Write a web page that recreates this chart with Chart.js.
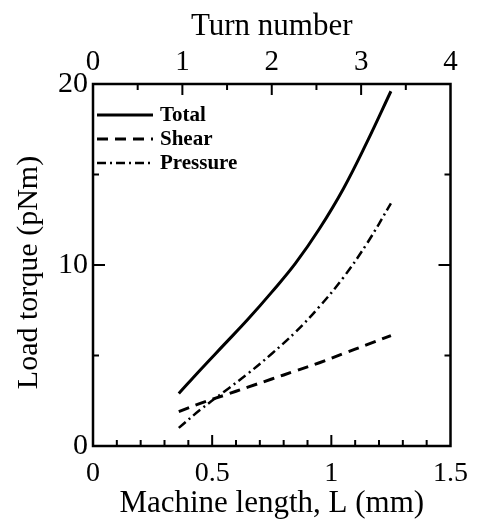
<!DOCTYPE html>
<html>
<head>
<meta charset="utf-8">
<script src="https://cdn.jsdelivr.net/npm/chart.js@4.4.0/dist/chart.umd.min.js"></script>
<style>
  html, body { margin: 0; padding: 0; background: #fff; }
  #wrap { width: 479px; height: 519px; }
</style>
</head>
<body>
<div id="wrap"><canvas id="c"></canvas></div>
<script>
// machine length L (mm) and load torques (pNm)
const lengthMm = [0.36, 0.45, 0.55, 0.65, 0.75, 0.85, 0.95, 1.05, 1.15, 1.25];
const totalTorque = [2.9, 4.2, 5.6, 7.0, 8.5, 10.1, 12.0, 14.2, 16.8, 19.6];
const shearTorque = [1.9, 2.35, 2.8, 3.25, 3.7, 4.15, 4.6, 5.1, 5.6, 6.1];
const pressureTorque = [1.0, 2.0, 3.0, 4.0, 5.1, 6.3, 7.7, 9.3, 11.2, 13.4];

const xMinorTicks = [0.1, 0.2, 0.3, 0.4, 0.6, 0.7, 0.8, 0.9, 1.1, 1.2, 1.3, 1.4];
const xMajorTicks = [0.5, 1];
const turnMinorTicks = [0.5, 1.5, 2.5, 3.5];
const turnMajorTicks = [1, 2, 3];
const yMinorTicks = [5, 15];
const yMajorTicks = [10];

const SERIF = "'Liberation Serif','DejaVu Serif',serif";

function pts(ys) {
  return lengthMm.map((x, i) => ({ x: x, y: ys[i] }));
}

// frame, inward ticks and the legend in the top-left corner
const framePlugin = {
  id: 'frame',
  afterDraw(chart) {
    const ctx = chart.ctx;
    const a = chart.chartArea;
    const sx = chart.scales.x, sy = chart.scales.y, st = chart.scales.x2;
    ctx.save();
    ctx.strokeStyle = '#000';
    ctx.lineWidth = 2.5;
    ctx.strokeRect(a.left, a.top, a.right - a.left, a.bottom - a.top);

    ctx.lineWidth = 2;
    ctx.beginPath();
    const tick = (x1, y1, x2, y2) => { ctx.moveTo(x1, y1); ctx.lineTo(x2, y2); };
    xMinorTicks.forEach(v => { const p = sx.getPixelForValue(v); tick(p, a.bottom, p, a.bottom - 6); });
    xMajorTicks.forEach(v => { const p = sx.getPixelForValue(v); tick(p, a.bottom, p, a.bottom - 11); });
    turnMinorTicks.forEach(v => { const p = st.getPixelForValue(v); tick(p, a.top, p, a.top + 6); });
    turnMajorTicks.forEach(v => { const p = st.getPixelForValue(v); tick(p, a.top, p, a.top + 11); });
    yMinorTicks.forEach(v => {
      const p = sy.getPixelForValue(v);
      tick(a.left, p, a.left + 6, p); tick(a.right, p, a.right - 6, p);
    });
    yMajorTicks.forEach(v => {
      const p = sy.getPixelForValue(v);
      tick(a.left, p, a.left + 12, p); tick(a.right, p, a.right - 12, p);
    });
    ctx.stroke();

    // legend
    ctx.font = 'bold 21px ' + SERIF;
    ctx.textBaseline = 'middle';
    ctx.fillStyle = '#000';
    chart.data.datasets.forEach((ds, i) => {
      const y = a.top + 31 + i * 24;
      ctx.beginPath();
      ctx.setLineDash(ds.borderDash || []);
      ctx.lineWidth = ds.borderWidth;
      ctx.moveTo(a.left + 4, y);
      ctx.lineTo(a.left + 60, y);
      ctx.stroke();
      ctx.setLineDash([]);
      ctx.fillText(ds.label, a.left + 67, y + 1);
    });
    ctx.restore();
  }
};

new Chart(document.getElementById('c'), {
  type: 'line',
  data: {
    datasets: [
      { label: 'Total', data: pts(totalTorque), borderColor: '#000', borderWidth: 3, borderDash: [] },
      { label: 'Shear', data: pts(shearTorque), borderColor: '#000', borderWidth: 3, borderDash: [11, 7] },
      { label: 'Pressure', data: pts(pressureTorque), borderColor: '#000', borderWidth: 2.5, borderDash: [9, 4, 2, 4] }
    ]
  },
  options: {
    responsive: true,
    maintainAspectRatio: false,
    animation: false,
    layout: { padding: { left: 0, right: 20, top: 0, bottom: 0 } },
    elements: {
      point: { radius: 0 },
      line: { tension: 0.4, fill: false }
    },
    plugins: { legend: { display: false }, tooltip: { enabled: false } },
    scales: {
      x: {
        type: 'linear', position: 'bottom', min: 0, max: 1.5,
        afterFit: s => { s.height = 73; },
        grid: { display: false, drawTicks: false },
        border: { display: false },
        ticks: { stepSize: 0.5, padding: 11, color: '#000', font: { family: SERIF, size: 28 }, callback: v => String(v) },
        title: { display: true, text: 'Machine length, L (mm)', color: '#000', padding: { top: 0, bottom: 0 }, font: { family: SERIF, size: 31, lineHeight: 1 } }
      },
      x2: {
        type: 'linear', position: 'top', min: 0, max: 4,
        afterFit: s => { s.height = 84; },
        grid: { display: false, drawTicks: false },
        border: { display: false },
        ticks: { stepSize: 1, padding: 4, color: '#000', font: { family: SERIF, size: 29 }, callback: v => String(v) },
        title: { display: true, text: 'Turn number', color: '#000', padding: { top: 8, bottom: 0 }, font: { family: SERIF, size: 31 } }
      },
      y: {
        type: 'linear', min: 0, max: 20,
        afterFit: s => { s.width = 93; },
        grid: { display: false, drawTicks: false },
        border: { display: false },
        ticks: { stepSize: 10, padding: 5, color: '#000', font: { family: SERIF, size: 30 }, callback: v => String(v) },
        title: { display: true, text: 'Load torque (pNm)  ', color: '#000', padding: { top: 11, bottom: 0 }, font: { family: SERIF, size: 30 } }
      }
    }
  },
  plugins: [framePlugin]
});
</script>
</body>
</html>
